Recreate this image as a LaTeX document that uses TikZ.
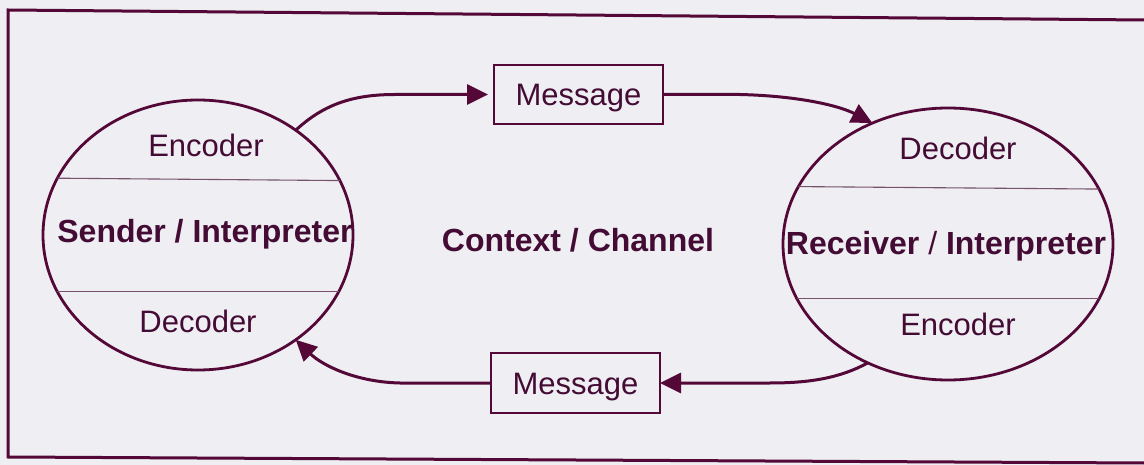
\documentclass[tikz,border=0pt]{standalone}
\usepackage{fontspec}
\setmainfont{Liberation Sans}
\usetikzlibrary{shapes.geometric,arrows.meta}
\definecolor{ink}{RGB}{84,8,56}
\definecolor{txt}{RGB}{68,12,52}
\definecolor{rule}{RGB}{118,82,108}
\definecolor{paper}{RGB}{238,238,243}
\begin{document}
\begin{tikzpicture}[x=1pt,y=-1pt,
  party/.style={ellipse, draw=ink, line width=2.8pt, inner sep=0pt, outer sep=0pt},
  msgbox/.style={rectangle, draw=ink, line width=2pt, minimum width=169pt,
    minimum height=59pt, inner sep=0pt, outer sep=0pt, text height=22pt,
    text depth=0pt, font=\fontsize{31}{37}\selectfont, text=txt},
  lbl/.style={anchor=base, inner sep=0pt, text=txt, font=\fontsize{31}{37}\selectfont},
  blbl/.style={lbl, font=\fontsize{32}{38}\selectfont\bfseries},
  flow/.style={draw=ink, line width=3pt, -{Triangle[length=21pt,width=20pt]}},
  chord/.style={draw=rule, line width=1.1pt}]

% page and frame
\fill[paper] (0,0) rectangle (1144,465);
\useasboundingbox (0,0) rectangle (1144,465);
\draw[ink, line width=3pt] (1144,20) -- (8,10) -- (8,457) -- (1144,463);

% the two parties
\node[party, minimum width=310pt, minimum height=270pt] (sender) at (198,235) {};
\node[party, minimum width=330pt, minimum height=272pt] (receiver) at (948,244) {};

% layer dividers
\draw[chord] (sender.158.8) -- (sender.21.2);
\draw[chord] (sender.202.5) -- (sender.-22.5);
\draw[chord] (receiver.159.6) -- (receiver.20.4);
\draw[chord] (receiver.200.0) -- (receiver.-20.0);

% labels inside the parties
\node[lbl]  (senc) at (206,157) {Encoder};
\node[blbl] (sint) at (205,243) {Sender / Interpreter};
\node[lbl]  (sdec) at (198,332) {Decoder};
\node[lbl]  (rdec) at (958,160) {Decoder};
\node[blbl] (rint) at (946,255) {Receiver {\mdseries/} Interpreter};
\node[lbl]  (renc) at (958,335) {Encoder};

% channel
\node[blbl] (ctx) at (578,252) {Context / Channel};

% messages
\node[msgbox] (top) at (578.5,94.5) {Message};
\node[msgbox, minimum height=60pt] (bottom) at (575.5,383) {Message};

% message flow
\draw[flow, shorten >=6pt] (sender.47) .. controls (322,106) and (350,94.5) .. (395,94.5) -- (top.west);
\draw[flow] (top.east) -- (740,94.5) .. controls (800,96) and (840,106) .. (receiver.122.8);
\draw[flow] (receiver.236.4) .. controls (840,378) and (810,383) .. (770,383) -- (bottom.east);
\draw[flow] (bottom.west) -- (400,383) .. controls (355,382) and (322,365) .. (sender.313);
\end{tikzpicture}
\end{document}
